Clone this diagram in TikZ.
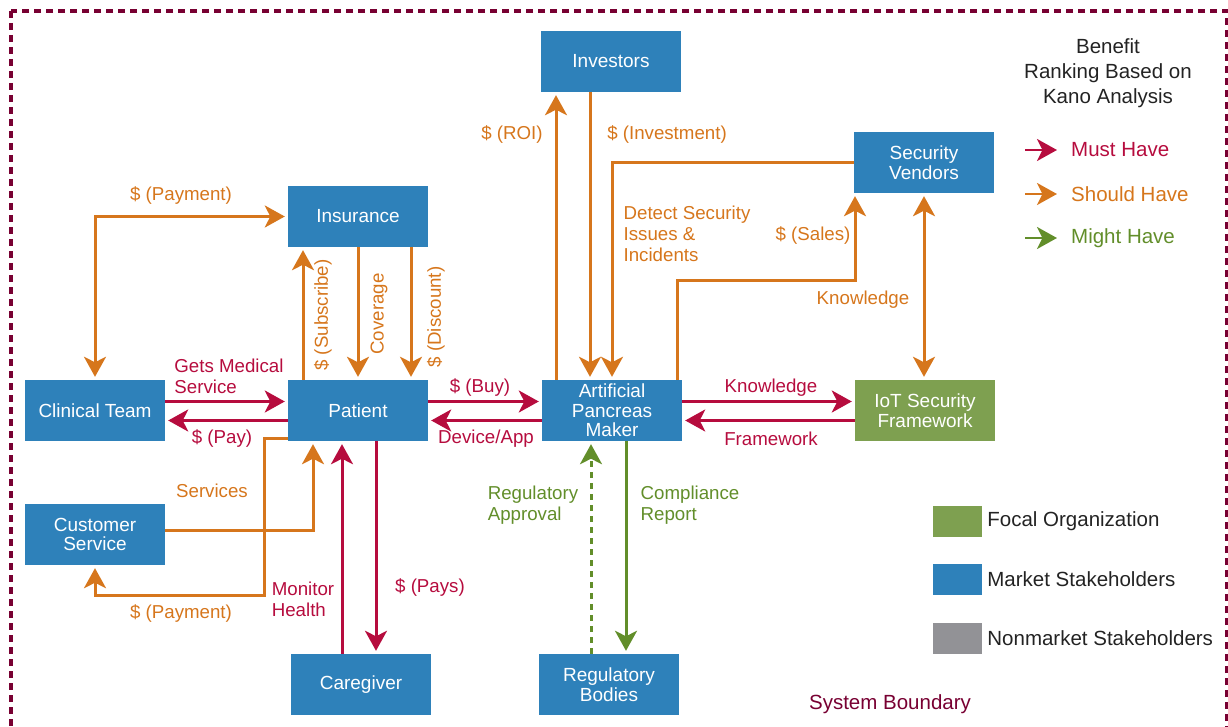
\documentclass[tikz,border=0pt]{standalone}
\usepackage{fontspec}
\setmainfont{Liberation Sans}
\usepackage{tikz}
\usetikzlibrary{arrows.meta,calc}
\definecolor{mkt}{RGB}{46,129,186}
\definecolor{focal}{RGB}{126,160,80}
\definecolor{nonmkt}{RGB}{146,146,150}
\definecolor{must}{RGB}{182,12,62}
\definecolor{should}{RGB}{214,118,28}
\definecolor{might}{RGB}{98,142,42}
\definecolor{bound}{RGB}{120,0,50}
\definecolor{ink}{RGB}{35,35,35}

\begin{document}
\begin{tikzpicture}[x=1pt, y=-1pt,
  font=\fontsize{18.7}{21}\selectfont,
  kano/.tip={Stealth[length=20pt,width=22pt,inset=5.5pt]},
  box/.style={fill=mkt, text=white, minimum width=140pt, minimum height=61pt,
    inner sep=0pt, align=center, font=\fontsize{19}{19.5}\selectfont},
  flow/.style={line width=3pt, shorten >=3pt, -kano},
  mustflow/.style={flow, draw=must},
  shouldflow/.style={flow, draw=should},
  mightflow/.style={flow, draw=might},
  lbl/.style={inner sep=0pt, align=left},
  keytxt/.style={lbl, font=\fontsize{20.5}{25}\selectfont},
  swatch/.style={minimum width=49pt, minimum height=31pt, inner sep=0pt}]
  \useasboundingbox (0,0) rectangle (1228,727);
  \clip (0,0) rectangle (1228,727);
  % system boundary
  \draw[bound, line width=3.5pt, dash pattern=on 7pt off 5pt] (11,11) rectangle (1227,760);

  % stakeholders
  \node[box] (inv)  at (611,61.5)  {Investors};
  \node[box] (ins)  at (358,216.5) {Insurance};
  \node[box] (sv)   at (924,162.5) {Security\\Vendors};
  \node[box] (clin) at (95,410.5)  {Clinical Team};
  \node[box] (pat)  at (358,410.5) {Patient};
  \node[box] (apm)  at (612,410.5) {Artificial\\Pancreas\\Maker};
  \node[box, fill=focal] (iot) at (925,410.5) {IoT Security\\Framework};
  \node[box] (cs)   at (95,534.5)  {Customer\\Service};
  \node[box] (cg)   at (361,684.5) {Caregiver};
  \node[box] (rb)   at (609,684.5) {Regulatory\\Bodies};

  % insurance
  \draw[shouldflow, kano-kano, shorten <=3pt] (clin.north) |- (ins.west);
  \draw[shouldflow] ([xshift=-55pt]pat.north) -- ([xshift=-55pt]ins.south);
  \draw[shouldflow] (ins.south) -- (pat.north);
  \draw[shouldflow] ([xshift=53pt]ins.south) -- ([xshift=53pt]pat.north);
  \node[lbl, should] at (181,196) {\$ (Payment)};
  \node[lbl, should, rotate=90] at (323,315) {\$ (Subscribe)};
  \node[lbl, should, rotate=90] at (379,314) {Coverage};
  \node[lbl, should, rotate=90] at (436,317) {\$ (Discount)};

  % clinical team
  \draw[mustflow] ([yshift=9pt]clin.east) -- ([yshift=9pt]pat.west);
  \draw[mustflow] ([yshift=-10pt]pat.west) -- ([yshift=-10pt]clin.east);
  \node[lbl, must] at (229,376) {Gets Medical\\Service};
  \node[lbl, must] at (222,439) {\$ (Pay)};

  % customer service
  \coordinate (paybend) at (264,595);
  \draw[shouldflow] ([yshift=4pt]cs.east) -| ([xshift=-45pt]pat.south);
  \draw[shouldflow] ([yshift=-28pt]pat.west) -| (paybend) -| (cs.south);
  \node[lbl, should] at (212,491) {Services};
  \node[lbl, should] at (181,614) {\$ (Payment)};

  % caregiver
  \draw[mustflow] ([xshift=-19pt]cg.north) -- ([xshift=-19pt]cg.north |- pat.south);
  \draw[mustflow] ([xshift=18pt]pat.south) -- ([xshift=18pt]pat.south |- cg.north);
  \node[lbl, must] at (303,599) {Monitor\\Health};
  \node[lbl, must] at (430,588) {\$ (Pays)};

  % maker and patient
  \draw[mustflow] ([yshift=9pt]pat.east) -- ([yshift=9pt]apm.west);
  \draw[mustflow] ([yshift=-10pt]apm.west) -- ([yshift=-10pt]pat.east);
  \node[lbl, must] at (480,388) {\$ (Buy)};
  \node[lbl, must] at (486,439) {Device/App};

  % investors
  \draw[shouldflow] ([xshift=-56pt]apm.north) -- ([xshift=-56pt]apm.north |- inv.south);
  \draw[shouldflow] ([xshift=-21pt]inv.south) -- ([xshift=-21pt]inv.south |- apm.north);
  \node[lbl, should] at (512,135) {\$ (ROI)};
  \node[lbl, should] at (667,135) {\$ (Investment)};

  % security vendors
  \coordinate (salesbend) at (855,280);
  \draw[shouldflow] (sv.west) -| (apm.north);
  \draw[shouldflow] ([xshift=65pt]apm.north) |- (salesbend) -- (salesbend |- sv.south);
  \draw[shouldflow, kano-kano, shorten <=3pt] (sv.south) -- (sv.south |- iot.north);
  \node[lbl, should] at (687,234) {Detect Security\\Issues \&\\Incidents};
  \node[lbl, should] at (813,236) {\$ (Sales)};
  \node[lbl, should] at (863,300) {Knowledge};

  % iot framework
  \draw[mustflow] ([yshift=9pt]apm.east) -- ([yshift=9pt]iot.west);
  \draw[mustflow] ([yshift=-10pt]iot.west) -- ([yshift=-10pt]apm.east);
  \node[lbl, must] at (771,388) {Knowledge};
  \node[lbl, must] at (771,439) {Framework};

  % regulators
  \draw[mightflow, dash pattern=on 6pt off 5pt] ([xshift=-18pt]rb.north) -- ([xshift=-18pt]rb.north |- apm.south);
  \draw[mightflow] ([xshift=14pt]apm.south) -- ([xshift=14pt]apm.south |- rb.north);
  \node[lbl, might] at (533,505) {Regulatory\\Approval};
  \node[lbl, might] at (690,505) {Compliance\\Report};

  % legend
  \node[keytxt, ink, align=center] (kano) at (1108,73) {Benefit\\Ranking Based on\\Kano Analysis};
  \node[keytxt, must, anchor=west]   (lmust)   at (1071,150) {Must Have};
  \node[keytxt, should, anchor=west] (lshould) at (1071,194) {Should Have};
  \node[keytxt, might, anchor=west]  (lmight)  at (1071,238) {Might Have};
  \draw[mustflow, line width=2.5pt, shorten >=0pt]   ([xshift=-46pt]lmust.west)   -- ([xshift=-14pt]lmust.west);
  \draw[shouldflow, line width=2.5pt, shorten >=0pt] ([xshift=-46pt]lshould.west) -- ([xshift=-14pt]lshould.west);
  \draw[mightflow, line width=2.5pt, shorten >=0pt]  ([xshift=-46pt]lmight.west)  -- ([xshift=-14pt]lmight.west);

  \node[swatch, fill=focal]  (sfocal)  at (957.5,521.5) {};
  \node[swatch, fill=mkt]    (smkt)    at (957.5,579.5) {};
  \node[swatch, fill=nonmkt] (snonmkt) at (957.5,638.5) {};
  \node[keytxt, ink, anchor=west] at ([xshift=5pt]sfocal.east)  {Focal Organization};
  \node[keytxt, ink, anchor=west] at ([xshift=5pt]smkt.east)    {Market Stakeholders};
  \node[keytxt, ink, anchor=west] at ([xshift=5pt]snonmkt.east) {Nonmarket Stakeholders};
  \node[keytxt, bound] at (890,704) {System Boundary};
\end{tikzpicture}
\end{document}
